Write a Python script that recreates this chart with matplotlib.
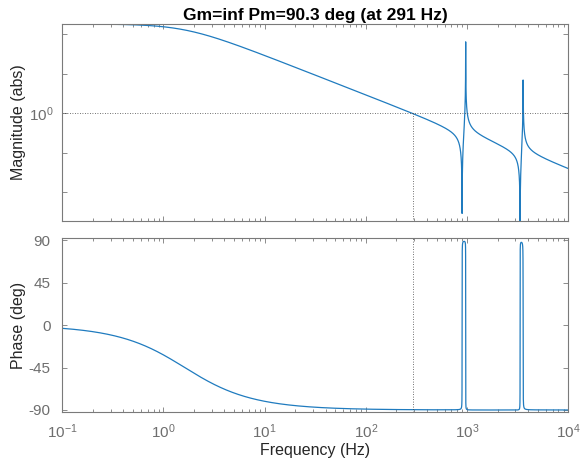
import numpy as np
import matplotlib
matplotlib.use("Agg")
import matplotlib.pyplot as plt
from matplotlib.ticker import LogLocator, NullLocator, FixedLocator, FixedFormatter, NullFormatter

# plant: first-order low-pass with two lightly damped zero/pole pairs
dc_gain = 180.0
corner_hz = 1.62
zero_hz = [893.0, 3342.0]
pole_hz = [969.0, 3580.0]
zero_damping = [0.00069, 0.0005]
pole_damping = [0.00041, 0.00103]

# stability margins
crossover_hz = 291
phase_margin = 90.3

plt.rcParams['font.family'] = ['Liberation Sans', 'DejaVu Sans']
plt.rcParams['axes.unicode_minus'] = False
plt.rcParams['mathtext.fontset'] = 'custom'
plt.rcParams['mathtext.rm'] = 'Liberation Sans'
plt.rcParams['mathtext.it'] = 'Liberation Sans'
plt.rcParams['mathtext.bf'] = 'Liberation Sans:bold'

f = np.logspace(-1, 4, 40000)

# frequency response, built factor by factor so the phase stays continuous
lp = dc_gain / (1 + 1j * f / corner_hz)
mag = np.abs(lp)
phase = np.degrees(np.angle(lp))
for fz, fp, zz, zp in zip(zero_hz, pole_hz, zero_damping, pole_damping):
    num = fz**2 - f**2 + 2j * zz * fz * f
    den = fp**2 - f**2 + 2j * zp * fp * f
    mag = mag * np.abs(num) / np.abs(den) * fp**2 / fz**2
    phase = phase + np.degrees(np.angle(num)) - np.degrees(np.angle(den))

line_c = '#1f7bbf'
axis_c = '#7a7a7a'
tick_c = '#6e6e6e'
label_c = '#262626'
dot_c = '#444444'

fig = plt.figure(figsize=(5.82, 4.68), dpi=100)
ax1 = fig.add_axes([0.107, 0.5278, 0.8694, 0.4209])
ax2 = fig.add_axes([0.107, 0.1203, 0.8694, 0.3705])

ax1.plot(f, mag, color=line_c, lw=0.9)
ax2.plot(f, phase, color=line_c, lw=0.9)

# crossover markers
ax1.axhline(1.0, color=dot_c, lw=0.6, ls=(0, (1, 2)))
ax1.plot([crossover_hz, crossover_hz], [1.0, 1e-5], color=dot_c, lw=0.6, ls=(0, (1, 2)))
ax2.axvline(crossover_hz, color=dot_c, lw=0.6, ls=(0, (1, 2)))

for ax in (ax1, ax2):
    ax.set_xscale('log')
    ax.set_xlim(1e-1, 1e4)
    ax.xaxis.set_major_locator(LogLocator(base=10, numticks=10))
    ax.xaxis.set_minor_locator(LogLocator(base=10, subs=np.arange(2, 10), numticks=10))
    ax.xaxis.set_minor_formatter(NullFormatter())
    ax.tick_params(which='both', direction='in', top=True, right=True,
                   colors=axis_c, labelcolor=tick_c, labelsize=11, width=0.6)
    ax.tick_params(which='major', length=3.5)
    ax.tick_params(which='minor', length=2)
    for s in ax.spines.values():
        s.set_color(axis_c)
        s.set_linewidth(0.8)

ax1.set_yscale('log')
ax1.set_ylim(10**-2.72, 10**2.255)
ax1.yaxis.set_major_locator(FixedLocator([1e-2, 1e-1, 1e0, 1e1, 1e2]))
ax1.yaxis.set_major_formatter(FixedFormatter(['', '', r'$10^{0}$', '', '']))
ax1.yaxis.set_minor_locator(NullLocator())
ax1.xaxis.set_major_formatter(NullFormatter())
ax1.tick_params(axis='y', pad=6)
ax1.set_ylabel('Magnitude (abs)', fontsize=11.5, color=label_c, va='center')
ax1.yaxis.set_label_coords(-0.087, 0.5)
ax1.set_title(f'Gm=inf Pm={phase_margin} deg (at {crossover_hz} Hz)',
              fontsize=12.5, fontweight='bold', pad=3)

ax2.set_ylim(-91.8, 91.8)
ax2.set_yticks([-90, -45, 0, 45, 90])
ax2.tick_params(axis='y', pad=8.5)
ax2.tick_params(axis='x', pad=8)
ax2.set_ylabel('Phase (deg)', fontsize=11.5, color=label_c, va='center')
ax2.yaxis.set_label_coords(-0.087, 0.5)
ax2.set_xlabel('Frequency (Hz)', fontsize=11.5, color=label_c, va='center')
ax2.xaxis.set_label_coords(0.5, -0.221)

fig.savefig('out.png', dpi=100)
